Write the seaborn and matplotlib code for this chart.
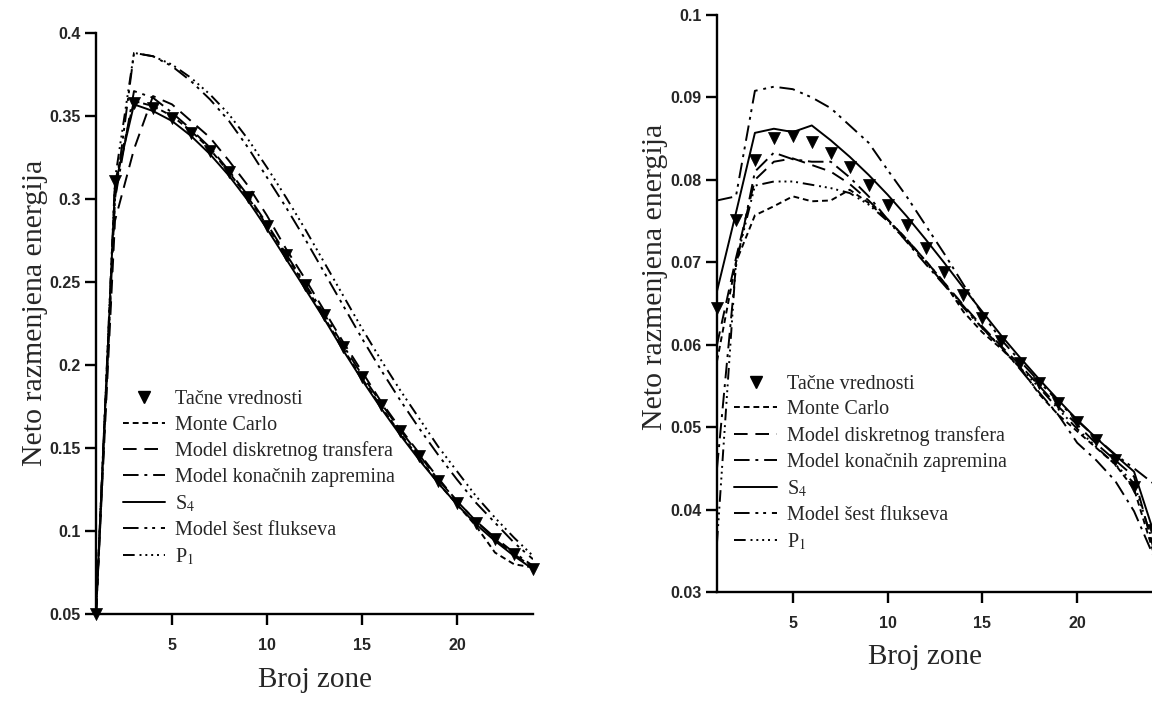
import numpy as np
import pandas as pd
import matplotlib
matplotlib.use("Agg")
import matplotlib.pyplot as plt
from matplotlib.lines import Line2D
import seaborn as sns

sns.set_theme(style="ticks")
plt.rcParams["font.family"] = ["Liberation Serif", "DejaVu Serif"]
plt.rcParams["mathtext.fontset"] = "stix"

# ---- data: zone number and net exchanged energy ----
zones = list(range(1, 25))

# left chart
tacne_L = [0.050, 0.311, 0.358, 0.355, 0.349, 0.340, 0.329, 0.316, 0.301, 0.284, 0.266, 0.248,
           0.230, 0.211, 0.193, 0.176, 0.160, 0.145, 0.130, 0.117, 0.105, 0.095, 0.086, 0.077]
monte_L = [0.050, 0.310, 0.359, 0.356, 0.350, 0.341, 0.330, 0.316, 0.301, 0.284, 0.266, 0.248,
           0.229, 0.210, 0.192, 0.175, 0.159, 0.144, 0.129, 0.116, 0.103, 0.087, 0.080, 0.078]
diskr_L = [0.050, 0.287, 0.330, 0.362, 0.357, 0.347, 0.337, 0.323, 0.308, 0.290, 0.270, 0.252,
           0.233, 0.214, 0.196, 0.178, 0.162, 0.147, 0.132, 0.118, 0.106, 0.095, 0.086, 0.078]
konac_L = [0.050, 0.300, 0.365, 0.361, 0.352, 0.342, 0.331, 0.317, 0.302, 0.285, 0.267, 0.249,
           0.231, 0.212, 0.194, 0.177, 0.161, 0.146, 0.131, 0.118, 0.106, 0.096, 0.087, 0.079]
s4_L    = [0.050, 0.308, 0.357, 0.353, 0.347, 0.338, 0.327, 0.314, 0.299, 0.282, 0.264, 0.246,
           0.228, 0.209, 0.191, 0.174, 0.158, 0.143, 0.129, 0.116, 0.104, 0.094, 0.085, 0.077]
sest_L  = [0.050, 0.300, 0.388, 0.386, 0.380, 0.371, 0.360, 0.347, 0.331, 0.313, 0.295, 0.276,
           0.256, 0.236, 0.216, 0.197, 0.179, 0.162, 0.146, 0.131, 0.117, 0.105, 0.093, 0.083]
p1_L    = [0.050, 0.312, 0.388, 0.386, 0.381, 0.373, 0.363, 0.351, 0.336, 0.319, 0.301, 0.282,
           0.262, 0.242, 0.222, 0.203, 0.185, 0.168, 0.151, 0.136, 0.121, 0.108, 0.096, 0.085]

# right chart
tacne_R = [0.0645, 0.0751, 0.0824, 0.0851, 0.0853, 0.0846, 0.0833, 0.0815, 0.0794, 0.0770, 0.0745, 0.0717,
           0.0688, 0.0660, 0.0633, 0.0605, 0.0578, 0.0553, 0.0529, 0.0506, 0.0484, 0.0460, 0.0427, 0.0375]
monte_R = [0.0580, 0.0700, 0.0757, 0.0768, 0.0780, 0.0774, 0.0775, 0.0788, 0.0772, 0.0752, 0.0728, 0.0702,
           0.0675, 0.0640, 0.0615, 0.0595, 0.0572, 0.0540, 0.0515, 0.0495, 0.0475, 0.0455, 0.0425, 0.0350]
diskr_R = [0.0600, 0.0705, 0.0800, 0.0822, 0.0826, 0.0818, 0.0810, 0.0795, 0.0775, 0.0752, 0.0728, 0.0702,
           0.0675, 0.0648, 0.0622, 0.0598, 0.0575, 0.0550, 0.0525, 0.0503, 0.0480, 0.0460, 0.0440, 0.0355]
konac_R = [0.0450, 0.0695, 0.0810, 0.0833, 0.0825, 0.0822, 0.0822, 0.0803, 0.0780, 0.0752, 0.0725, 0.0698,
           0.0672, 0.0645, 0.0620, 0.0597, 0.0570, 0.0542, 0.0515, 0.0481, 0.0460, 0.0435, 0.0398, 0.0345]
s4_R    = [0.0665, 0.0760, 0.0857, 0.0862, 0.0858, 0.0866, 0.0848, 0.0828, 0.0806, 0.0782, 0.0756, 0.0728,
           0.0699, 0.0669, 0.0640, 0.0611, 0.0584, 0.0558, 0.0533, 0.0509, 0.0487, 0.0466, 0.0446, 0.0375]
sest_R  = [0.0775, 0.0780, 0.0908, 0.0913, 0.0910, 0.0900, 0.0887, 0.0866, 0.0845, 0.0812, 0.0780, 0.0745,
           0.0710, 0.0673, 0.0637, 0.0606, 0.0580, 0.0555, 0.0531, 0.0508, 0.0487, 0.0467, 0.0450, 0.0432]
p1_R    = [0.0360, 0.0700, 0.0793, 0.0798, 0.0798, 0.0794, 0.0790, 0.0784, 0.0770, 0.0750, 0.0726, 0.0700,
           0.0673, 0.0647, 0.0620, 0.0596, 0.0572, 0.0548, 0.0522, 0.0498, 0.0476, 0.0455, 0.0432, 0.0360]

lbl_tacne = "Tačne vrednosti"
series_names = ["Monte Carlo", "Model diskretnog transfera", "Model konačnih zapremina",
                "S$_4$", "Model šest flukseva", "P$_1$"]
dash_styles = {
    "Monte Carlo": (3, 2),
    "Model diskretnog transfera": (7, 4),
    "Model konačnih zapremina": (8, 3, 1.5, 3),
    "S$_4$": "",
    "Model šest flukseva": (8, 3, 1.5, 2.5, 1.5, 3),
    "P$_1$": (6, 2.5, 1, 2, 1, 2, 1, 2, 1, 2.5),
}

y_label = "Neto razmenjena energija"
x_label = "Broj zone"

W, H = 1152, 702
fig = plt.figure(figsize=(W / 100, H / 100), dpi=100)
axL = fig.add_axes([96 / W, 1 - 614 / H, 437 / W, 581 / H])
axR = fig.add_axes([717 / W, 1 - 592 / H, 436 / W, 577 / H])


def long_frame(values):
    rows = []
    for name, vals in zip(series_names, values):
        for z, v in zip(zones, vals):
            rows.append({"zona": z, "vrednost": v, "model": name})
    return pd.DataFrame(rows)


def draw_panel(ax, tacne, values, ylim, yticks, ytick_labels):
    df = long_frame(values)
    sns.lineplot(data=df, x="zona", y="vrednost", style="model", dashes=dash_styles,
                 color="black", linewidth=1.4, legend=False, sort=False, ax=ax)
    sns.scatterplot(x=zones, y=tacne, marker="v", s=75, color="black",
                    edgecolor="black", linewidth=0.5, zorder=5, clip_on=False, ax=ax)
    ax.set_xlim(1, 24)
    ax.set_ylim(*ylim)
    ax.set_xticks([5, 10, 15, 20])
    ax.set_yticks(yticks)
    ax.set_yticklabels(ytick_labels)
    ax.set_xlabel("")
    ax.set_ylabel("")
    for side in ("top", "right"):
        ax.spines[side].set_visible(False)
    for side in ("left", "bottom"):
        ax.spines[side].set_linewidth(1.7)
        ax.spines[side].set_color("black")
    ax.tick_params(axis="both", direction="out", length=8, width=1.7, color="black",
                   labelsize=11.5, pad=3)
    for t in ax.get_xticklabels() + ax.get_yticklabels():
        t.set_family(["Liberation Sans", "DejaVu Sans"])
        t.set_fontweight("bold")
    ax.tick_params(axis="x", pad=9)
    ax.set_facecolor("white")


draw_panel(axL, tacne_L, [monte_L, diskr_L, konac_L, s4_L, sest_L, p1_L],
           (0.05, 0.4), [0.05, 0.1, 0.15, 0.2, 0.25, 0.3, 0.35, 0.4],
           ["0.05", "0.1", "0.15", "0.2", "0.25", "0.3", "0.35", "0.4"])
draw_panel(axR, tacne_R, [monte_R, diskr_R, konac_R, s4_R, sest_R, p1_R],
           (0.03, 0.1), [0.03, 0.04, 0.05, 0.06, 0.07, 0.08, 0.09, 0.1],
           ["0.03", "0.04", "0.05", "0.06", "0.07", "0.08", "0.09", "0.1"])

# legends
handles = [Line2D([], [], color="black", marker="v", markersize=9, linestyle="none")]
for name in series_names:
    d = dash_styles[name]
    ls = "-" if d == "" else (0, d)
    handles.append(Line2D([], [], color="black", linewidth=1.4, linestyle=ls))
labels = [lbl_tacne] + series_names

for ax, anchor in ((axL, (0.062, 0.386)), (axR, (0.04, 0.377))):
    ax.legend(handles, labels, loc="upper left", bbox_to_anchor=anchor, frameon=False,
              fontsize=14.5, handlelength=2.1, handletextpad=0.5, labelspacing=0.33,
              borderaxespad=0, borderpad=0)

# axis titles
fig.text(35 / W, 1 - 313 / H, y_label, rotation=90, ha="center", va="center", fontsize=21.5)
fig.text(655 / W, 1 - 277 / H, y_label, rotation=90, ha="center", va="center", fontsize=21.5)
fig.text(315 / W, 1 - 680 / H, x_label, ha="center", va="center", fontsize=21)
fig.text(925 / W, 1 - 657 / H, x_label, ha="center", va="center", fontsize=21)

fig.savefig("out.png", dpi=100, facecolor="white")
